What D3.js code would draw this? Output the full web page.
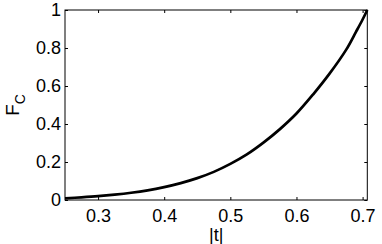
<!DOCTYPE html>
<html>
<head>
<meta charset="utf-8">
<script src="https://cdn.jsdelivr.net/npm/d3@7"></script>
<style>
  body { margin: 0; background: #fff; }
  text { font-family: "Liberation Sans", Arial, sans-serif; fill: #000; }
</style>
</head>
<body>
<svg id="chart"></svg>
<script>
const width  = 382
const height = 244

// values
const tValues  = [0.25, 0.275, 0.30, 0.325, 0.35, 0.375, 0.40, 0.425, 0.45, 0.475, 0.50,
                  0.525, 0.55, 0.575, 0.60, 0.625, 0.65, 0.675, 0.69, 0.70, 0.7071]
const fcValues = [0.009, 0.014, 0.020, 0.028, 0.038, 0.051, 0.068, 0.089, 0.115, 0.148, 0.190,
                  0.240, 0.302, 0.373, 0.455, 0.555, 0.665, 0.790, 0.885, 0.950, 1.0]
const xTicks = [0.3, 0.4, 0.5, 0.6, 0.7]
const yTicks = [0, 0.2, 0.4, 0.6, 0.8, 1]

const margin = {left: 65, right: 14.7, top: 10, bottom: 44}

let svg = d3.select("#chart")
            .attr("width", width)
            .attr("height", height)

const x = d3.scaleLinear()
            .domain([0.25, 0.7071])
            .range([margin.left, width - margin.right])
const y = d3.scaleLinear()
            .domain([0, 1])
            .range([height - margin.bottom, margin.top])

// inward ticks on all four sides, matlab style
const tickLen = 3
svg.append("g")
    .attr("transform", `translate(0,${y(0)})`)
    .call(d3.axisBottom(x).tickValues(xTicks).tickSizeInner(-tickLen).tickSizeOuter(0).tickPadding(9).tickFormat(d3.format(".1f")))
svg.append("g")
    .attr("transform", `translate(0,${y(1)})`)
    .call(d3.axisTop(x).tickValues(xTicks).tickSizeInner(-tickLen).tickSizeOuter(0).tickFormat(""))
svg.append("g")
    .attr("transform", `translate(${x(0.25)},0)`)
    .call(d3.axisLeft(y).tickValues(yTicks).tickSizeInner(-tickLen).tickSizeOuter(0).tickPadding(4).tickFormat(d => d === 0 || d === 1 ? d3.format("d")(d) : d3.format(".1f")(d)))
svg.append("g")
    .attr("transform", `translate(${x(0.7071)},0)`)
    .call(d3.axisRight(y).tickValues(yTicks).tickSizeInner(-tickLen).tickSizeOuter(0).tickFormat(""))

svg.selectAll(".domain").remove()
svg.selectAll(".tick line").attr("stroke", "#000")
svg.selectAll(".tick text")
    .style("font-size", "18px")
    .style("font-family", "'Liberation Sans', Arial, sans-serif")

// box
svg.append("rect")
    .attr("x", x(0.25))
    .attr("y", y(1))
    .attr("width", x(0.7071) - x(0.25))
    .attr("height", y(0) - y(1))
    .attr("fill", "none")
    .attr("stroke", "#000")
    .attr("stroke-width", 1)

// curve
const line = d3.line()
    .x((d, i) => x(tValues[i]))
    .y(d => y(d))
    .curve(d3.curveCatmullRom)

svg.append("path")
    .datum(fcValues)
    .attr("d", line)
    .attr("fill", "none")
    .attr("stroke", "#000")
    .attr("stroke-width", 2.7)

// axis labels
svg.append("text")
    .attr("x", (x(0.25) + x(0.7071)) / 2)
    .attr("y", 241)
    .attr("text-anchor", "middle")
    .style("font-size", "18px")
    .text("|t|")

let yLabel = svg.append("text")
    .attr("transform", "translate(19,105) rotate(-90)")
    .attr("text-anchor", "middle")
    .style("font-size", "19px")
yLabel.append("tspan").text("F")
yLabel.append("tspan")
    .attr("dy", 6)
    .style("font-size", "14px")
    .text("C")
</script>
</body>
</html>
